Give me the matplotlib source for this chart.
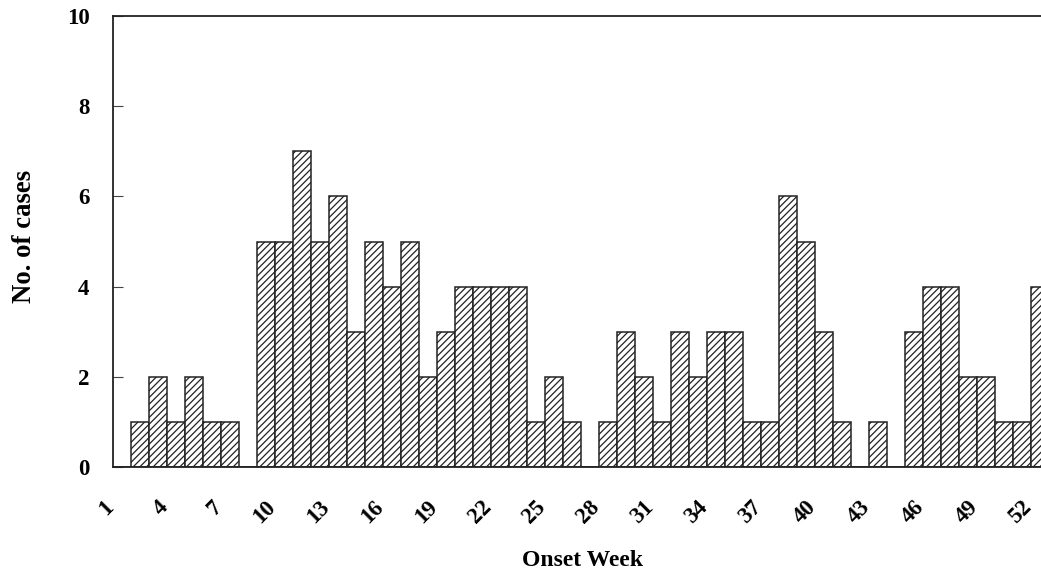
import matplotlib
matplotlib.use("Agg")
import matplotlib.pyplot as plt
from matplotlib.transforms import ScaledTranslation

weeks = list(range(1, 53))
cases = [0, 1, 2, 1, 2, 1, 1, 0, 5, 5,
         7, 5, 6, 3, 5, 4, 5, 2, 3, 4,
         4, 4, 4, 1, 2, 1, 0, 1, 3, 2,
         1, 3, 2, 3, 3, 1, 1, 6, 5, 3,
         1, 0, 1, 0, 3, 4, 4, 2, 2, 1,
         1, 4]
xtick_labels = list(range(1, 53, 3))
ytick_values = [0, 2, 4, 6, 8, 10]

plt.rcParams['font.family'] = ['Liberation Serif', 'DejaVu Serif']
plt.rcParams['font.weight'] = 'bold'
plt.rcParams['hatch.linewidth'] = 0.9
plt.rcParams['hatch.color'] = '#2a2a2a'

W, H = 1041, 570
fig = plt.figure(figsize=(W / 100, H / 100), dpi=100)
left, right, top, bottom = 113, 1049, 16, 467
ax = fig.add_axes([left / W, 1 - bottom / H, (right - left) / W, (bottom - top) / H])

ax.bar(weeks, cases, width=1, align='edge', color='white',
       edgecolor='#222222', linewidth=1.1, hatch='/////')

ax.set_xlim(1, 53)
ax.set_ylim(0, 10)
ax.set_yticks(ytick_values)
ax.set_xticks(xtick_labels)
ax.set_xticklabels([str(v) for v in xtick_labels], rotation=45,
                   ha='right', rotation_mode='default')
ax.tick_params(axis='x', length=0, pad=21, labelsize=16.5)
ax.tick_params(axis='y', direction='in', length=7, width=0.8,
               pad=17, labelsize=16.5, color='#444444')
offset = ScaledTranslation(5 / 100, 0, fig.dpi_scale_trans)
for lab in ax.get_xticklabels():
    lab.set_fontweight('bold')
    lab.set_transform(lab.get_transform() + offset)
for lab in ax.get_yticklabels():
    lab.set_fontweight('bold')

for side in ['left', 'bottom', 'top']:
    ax.spines[side].set_color('#222222')
    ax.spines[side].set_linewidth(1.3)
ax.spines['right'].set_visible(False)

fig.text(25 / W, 1 - 236 / H, 'No. of cases', rotation=90,
         ha='center', va='center', fontsize=19.3, fontweight='bold')
fig.text(582 / W, 1 - 566 / H, 'Onset Week', ha='center', va='baseline',
         fontsize=17, fontweight='bold')

fig.savefig('out.png', dpi=100)
